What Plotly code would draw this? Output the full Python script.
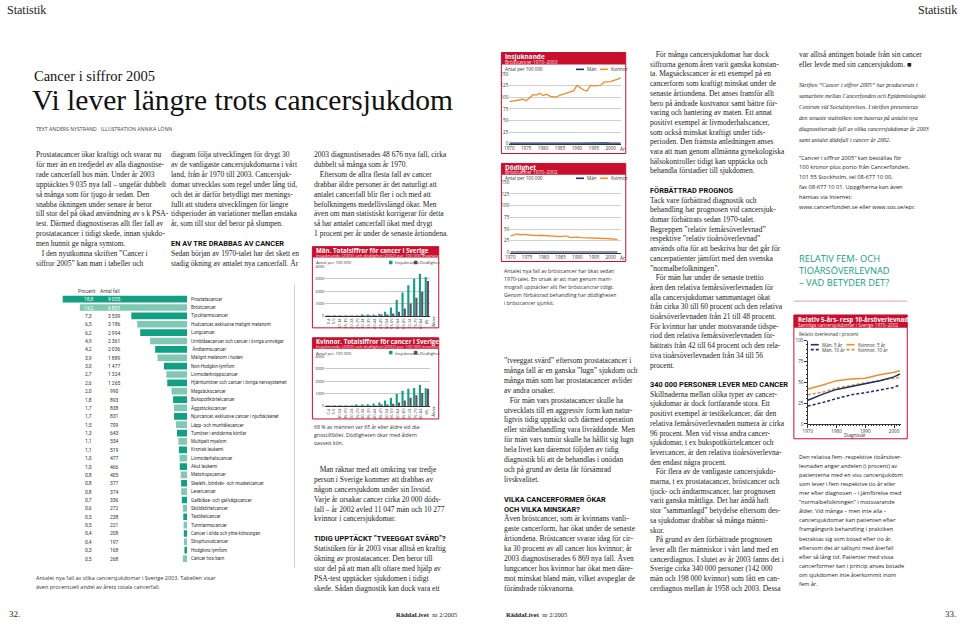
import plotly.graph_objects as go

W, H = 960, 625
def px(x): return x / W
def py(y): return 1 - y / H

SANS = "Open Sans, Noto Sans, sans-serif"
NARROW = "Roboto, Open Sans, sans-serif"
SERIF = "Liberation Serif, Times New Roman, serif"
HEAD = "Liberation Sans Narrow, Roboto, sans-serif"
RED = "#c8102e"
TEAL_D = "#12a082"
TEAL_L = "#80c8b2"
NAVY = "#1f2d6e"
ORANGE = "#f08c2a"
PURPLE = "#6c4a6a"
TXT = "#222222"

# ---------------- data ----------------
cancer_types = [
    "Prostatacancer", "Bröstcancer", "Tjocktarmscancer",
    "Hudcancer, exklusive malignt melanom", "Lungcancer",
    "Urinblåsecancer och cancer i övriga urinvägar", " Ändtarmscancer",
    "Malignt melanom i huden", "Non-Hodgkin-lymfom", "Livmoderkroppscancer",
    "Hjärntumörer och cancer i övriga nervsystemet", "Magsäckscancer",
    "Bukspottkörtelcancer", "Äggstockscancer",
    "Njurcancer, exklusive cancer i njurbäckenet", "Läpp- och munhålecancer",
    "Tumörer i endokrina körtlar", "Multipelt myelom", "Kronisk leukemi",
    "Livmoderhalscancer", "Akut leukemi", "Matstrupscancer",
    "Skelett-, bindväv- och muskelcancer", "Levercancer",
    "Gallblåse- och gallvägscancer", "Sköldkörtelcancer", "Testikelcancer",
    "Tunntarmscancer", "Cancer i slida och yttre könsorgan",
    "Struphuvudcancer", "Hodgkins lymfom", "Cancer hos barn",
]
percent = ["18,8", "14,2", "7,3", "6,5", "6,2", "4,9", "4,2", "3,9", "3,0", "2,7",
           "2,6", "2,0", "1,8", "1,7", "1,7", "1,5", "1,3", "1,1", "1,1", "1,0",
           "1,0", "0,8", "0,8", "0,8", "0,7", "0,6", "0,5", "0,5", "0,4", "0,4",
           "0,3", "0,5"]
cases = [9035, 6851, 3559, 3186, 2994, 2361, 2036, 1889, 1477, 1324, 1265, 990,
         893, 838, 831, 709, 643, 554, 519, 477, 466, 405, 377, 374, 336, 272,
         238, 221, 208, 197, 168, 268]

inc_years = list(range(1970, 2004))
inc_women = [91, 92, 93, 95, 96, 93, 99, 106, 105, 109, 104, 107, 103, 101, 101,
             105, 107, 109, 111, 114, 126, 121, 116, 114, 126, 125, 125, 126,
             133, 134, 134, 137, 139, 143]
inc_men = [0.7, 0.8, 0.7, 0.9, 0.8, 0.7, 0.9, 0.8, 0.8, 0.9, 0.7, 0.8, 0.9, 0.8,
           0.7, 0.9, 0.8, 0.8, 0.9, 0.9, 0.8, 1.0, 0.9, 0.9, 1.0, 0.9, 1.0, 0.9,
           1.0, 1.1, 0.9, 1.0, 1.1, 1.0]
mort_years = list(range(1970, 2003))
mort_women = [35, 37, 40, 38, 39, 38, 37, 37, 36, 37, 36.5, 36, 35, 35, 34.5, 34,
              35, 35, 32, 33, 33, 32, 31.5, 32, 31.5, 31, 31, 30.5, 30, 30, 29.5,
              29, 28]
mort_men = [0.4, 0.4, 0.5, 0.4, 0.4, 0.5, 0.4, 0.4, 0.4, 0.5, 0.4, 0.4, 0.4, 0.4,
            0.5, 0.4, 0.4, 0.4, 0.4, 0.4, 0.5, 0.4, 0.4, 0.4, 0.4, 0.4, 0.4, 0.4,
            0.4, 0.4, 0.4, 0.4, 0.4]

age_groups = ["0-4", "5-9", "10-14", "15-19", "20-24", "25-29", "30-34", "35-39",
              "40-44", "45-49", "50-54", "55-59", "60-64", "65-69", "70-74",
              "75-79", "80-84", "85-"]
men_inc = [20, 12, 12, 20, 30, 40, 55, 75, 110, 170, 350, 680, 1280, 1890, 2480,
           3010, 3410, 3150]
men_mort = [3, 2, 2, 3, 5, 7, 10, 17, 30, 60, 110, 200, 350, 610, 1010, 1470,
            1950, 2830]
women_inc = [18, 12, 12, 20, 35, 60, 90, 140, 210, 300, 450, 650, 980, 1240, 1400,
             1460, 1710, 1450]
women_mort = [2, 2, 2, 2, 3, 5, 8, 15, 30, 55, 100, 180, 290, 450, 680, 870,
              1050, 1400]

surv_years = [1970, 1975, 1980, 1985, 1990, 1995, 2000, 2002]
men_5 = [28.5, 35.5, 41.5, 45, 48, 52, 56.5, 60]
women_5 = [42, 46.5, 52, 54, 55, 59, 62, 64]
men_10 = [21.5, 25.5, 30.5, 35, 37.5, 40.5, 44, 47]
women_10 = [35, 38, 43, 46.5, 49.5, 52, 55, 56]

# ---------------- text ----------------
col1 = [
    "Prostatacancer ökar kraftigt och svarar nu",
    "för mer än en tredjedel av alla diagnostise-",
    "rade cancerfall hos män. Under år 2003",
    "upptäcktes 9 035 nya fall – ungefär dubbelt",
    "så många som för tjugo år sedan. Den",
    "snabba ökningen under senare år beror",
    "till stor del på ökad användning av s k PSA-",
    "test. Därmed diagnostiseras allt fler fall av",
    "prostatacancer i tidigt skede, innan sjukdo-",
    "men hunnit ge några symtom.",
    "\u00a0\u00a0\u00a0I den nyutkomna skriften ”Cancer i",
    "siffror 2005” kan man i tabeller och",
]
col2 = [
    "diagram följa utvecklingen för drygt 30",
    "av de vanligaste cancersjukdomarna i vårt",
    "land, från år 1970 till 2003. Cancersjuk-",
    "domar utvecklas som regel under lång tid,",
    "och det är därför betydligt mer menings-",
    "fullt att studera utvecklingen för längre",
    "tidsperioder än variationer mellan enstaka",
    "år, som till stor del beror på slumpen.",
    "",
    "#EN AV TRE DRABBAS AV CANCER",
    "Sedan början av 1970-talet har det skett en",
    "stadig ökning av antalet nya cancerfall. År",
]
col3a = [
    "2003 diagnostiserades 48 676 nya fall, cirka",
    "dubbelt så många som år 1970.",
    "\u00a0\u00a0\u00a0Eftersom de allra flesta fall av cancer",
    "drabbar äldre personer är det naturligt att",
    "antalet cancerfall blir fler i och med att",
    "befolkningens medellivslängd ökar. Men",
    "även om man statistiskt korrigerar för detta",
    "så har antalet cancerfall ökat med drygt",
    "1 procent per år under de senaste årtiondena.",
]
col3cap = [
    "68 % av männen var 65 år eller äldre vid dia-",
    "gnostillfället. Dödligheten ökar med åldern",
    "oavsett kön.",
]
col3b = [
    "\u00a0\u00a0\u00a0Man räknar med att omkring var tredje",
    "person i Sverige kommer att drabbas av",
    "någon cancersjukdom under sin livstid.",
    "Varje år orsakar cancer cirka 20 000 döds-",
    "fall – år 2002 avled 11 047 män och 10 277",
    "kvinnor i cancersjukdomar.",
    "",
    "#TIDIG UPPTÄCKT ”TVEEGGAT SVÄRD”?",
    "Statistiken för år 2003 visar alltså en kraftig",
    "ökning av prostatacancer. Den beror till",
    "stor del på att man allt oftare med hjälp av",
    "PSA-test upptäcker sjukdomen i tidigt",
    "skede. Sådan diagnostik kan dock vara ett",
]
col4cap = [
    "Antalet nya fall av bröstcancer har ökat sedan",
    "1970-talet. En orsak är att man genom mam-",
    "mografi upptäcker allt fler bröstcancrar tidigt.",
    "Genom förbättrad behandling har dödligheten",
    "i bröstcancer sjunkit.",
]
col4 = [
    "”tveeggat svärd” eftersom prostatacancer i",
    "många fall är en ganska ”lugn” sjukdom och",
    "många män som har prostatacancer avlider",
    "av andra orsaker.",
    "\u00a0\u00a0\u00a0För män vars prostatacancer skulle ha",
    "utvecklats till en aggressiv form kan natur-",
    "ligtvis tidig upptäckt och därmed operation",
    "eller strålbehandling vara livräddande. Men",
    "för män vars tumör skulle ha hållit sig lugn",
    "hela livet kan däremot följden av tidig",
    "diagnostik bli att de behandlas i onödan",
    "och på grund av detta får försämrad",
    "livskvalitet.",
    "",
    "#VILKA CANCERFORMER ÖKAR",
    "#OCH VILKA MINSKAR?",
    "Även bröstcancer, som är kvinnans vanli-",
    "gaste cancerform, har ökat under de senaste",
    "årtiondena. Bröstcancer svarar idag för cir-",
    "ka 30 procent av all cancer hos kvinnor; år",
    "2003 diagnostiserades 6 869 nya fall. Även",
    "lungcancer hos kvinnor har ökat men däre-",
    "mot minskat bland män, vilket avspeglar de",
    "förändrade rökvanorna.",
]
col5 = [
    "\u00a0\u00a0\u00a0För många cancersjukdomar har dock",
    "siffrorna genom åren varit ganska konstan-",
    "ta. Magsäckscancer är ett exempel på en",
    "cancerform som kraftigt minskat under de",
    "senaste årtiondena. Det anses framför allt",
    "bero på ändrade kostvanor samt bättre för-",
    "varing och hantering av maten. Ett annat",
    "positivt exempel är livmoderhalscancer,",
    "som också minskat kraftigt under tids-",
    "perioden. Den främsta anledningen anses",
    "vara att man genom allmänna gynekologiska",
    "hälsokontroller tidigt kan upptäcka och",
    "behandla förstadier till sjukdomen.",
    "",
    "#FÖRBÄTTRAD PROGNOS",
    "Tack vare förbättrad diagnostik och",
    "behandling har prognosen vid cancersjuk-",
    "domar förbättrats sedan 1970-talet.",
    "Begreppen ”relativ femårsöverlevnad”",
    "respektive ”relativ tioårsöverlevnad”",
    "används ofta för att beskriva hur det går för",
    "cancerpatienter jämfört med den svenska",
    "”normalbefolkningen”.",
    "\u00a0\u00a0\u00a0För män har under de senaste trettio",
    "åren den relativa femårsöverlevnaden för",
    "alla cancersjukdomar sammantaget ökat",
    "från cirka 30 till 60 procent och den relativa",
    "tioårsöverlevnaden från 21 till 48 procent.",
    "För kvinnor har under motsvarande tidspe-",
    "riod den relativa femårsöverlevnaden för-",
    "bättrats från 42 till 64 procent och den rela-",
    "tiva tioårsöverlevnaden från 34 till 56",
    "procent.",
    "",
    "#340 000 PERSONER LEVER MED CANCER",
    "Skillnaderna mellan olika typer av cancer-",
    "sjukdomar är dock fortfarande stora. Ett",
    "positivt exempel är testikelcancer, där den",
    "relativa femårsöverlevnaden numera är cirka",
    "96 procent. Men vid vissa andra cancer-",
    "sjukdomar, t ex bukspottkörtelcancer och",
    "levercancer, är den relativa tioårsöverlevna-",
    "den endast några procent.",
    "\u00a0\u00a0\u00a0För flera av de vanligaste cancersjukdo-",
    "marna, t ex prostatacancer, bröstcancer och",
    "tjock- och ändtarmscancer, har prognosen",
    "varit ganska måttliga. Det har ändå haft",
    "stor ”sammanlagd” betydelse eftersom des-",
    "sa sjukdomar drabbar så många männi-",
    "skor.",
    "\u00a0\u00a0\u00a0På grund av den förbättrade prognosen",
    "lever allt fler människor i vårt land med en",
    "cancerdiagnos. I slutet av år 2003 fanns det i",
    "Sverige cirka 340 000 personer (142 000",
    "män och 198 000 kvinnor) som fått en can-",
    "cerdiagnos mellan år 1958 och 2003. Dessa",
]
col6a = [
    "var alltså antingen botade från sin cancer",
    "eller levde med sin cancersjukdom. ■",
]
col6it = [
    "Skriften ”Cancer i siffror 2005” har producerats i",
    "samarbete mellan Cancerfonden och Epidemiologiskt",
    "Centrum vid Socialstyrelsen. I skriften presenteras",
    "den senaste statistiken som baseras på antalet nya",
    "diagnostiserade fall av olika cancersjukdomar år 2003",
    "samt antalet dödsfall i cancer år 2002.",
]
col6s = [
    "”Cancer i siffror 2005” kan beställas för",
    "100 kronor plus porto från Cancerfonden,",
    "101 55 Stockholm, tel 08-677 10 00,",
    "fax 08-677 10 01. Uppgifterna kan även",
    "hämtas via Internet:",
    "www.cancerfonden.se eller www.sos.se/epc",
]
col6head = ["RELATIV FEM- OCH", "TIOÅRSÖVERLEVNAD", "– VAD BETYDER DET?"]
col6b = [
    "Den relativa fem- respektive tioårsöver-",
    "levnaden anger andelen (i procent) av",
    "patienterna med en viss cancersjukdom",
    "som lever i fem respektive tio år eller",
    "mer efter diagnosen – i jämförelse med",
    "”normalbefolkningen” i motsvarande",
    "ålder. Vid många – men inte alla –",
    "cancersjukdomar kan patienten efter",
    "framgångsrik behandling i praktiken",
    "betraktas sig som botad efter tio år,",
    "eftersom det är sällsynt med återfall",
    "efter så lång tid. Patienter med vissa",
    "cancerformer kan i princip anses botade",
    "om sjukdomen inte återkommit inom",
    "fem år.",
]

annotations = []
shapes = []

def note(text, x, y, size, family=SANS, color=TXT, xanchor="left", yanchor="middle",
         xref="paper", yref="paper", angle=0):
    annotations.append(dict(
        text=text, x=px(x) if xref == "paper" else x,
        y=py(y) if yref == "paper" else y, xref=xref, yref=yref,
        xanchor=xanchor, yanchor=yanchor, showarrow=False, textangle=angle,
        borderpad=0, font=dict(size=size, family=family, color=color)))

def block(lines, x, y0, dy, size, family=SERIF, color=TXT, head_size=7.4):
    for i, t in enumerate(lines):
        if not t:
            continue
        if t.startswith("#"):
            note("<b>" + t[1:] + "</b>", x, y0 + i * dy, head_size, HEAD, "#111")
        else:
            note(t, x, y0 + i * dy, size, family, color)

def rect(x0, y0, x1, y1, fill=None, line=None, width=1):
    shapes.append(dict(type="rect", xref="paper", yref="paper",
                       x0=px(x0), x1=px(x1), y0=py(y1), y1=py(y0),
                       fillcolor=fill if fill else "rgba(0,0,0,0)",
                       line=dict(color=line if line else "rgba(0,0,0,0)", width=width)))

def hline(x0, x1, y, color, width=1, dash="solid"):
    shapes.append(dict(type="line", xref="paper", yref="paper", x0=px(x0), x1=px(x1),
                       y0=py(y), y1=py(y), line=dict(color=color, width=width, dash=dash)))

BODY = 7.5

# --------- page headers / titles ---------
note("Statistik", 1, 7, 12, SERIF, "#222")
note("Statistik", 958, 7, 12, SERIF, "#222", xanchor="right")
note("Cancer i siffror 2005", 28, 74, 14.5, SERIF, "#111")
note("Vi lever längre trots cancersjukdom", 26, 98, 29.5, SERIF, "#111")
note("TEXT ANDERS NYSTRAND\u00a0\u00a0\u00a0ILLUSTRATION ANNIKA LÖNN", 30, 127, 5.2, SANS, "#444")

block(col1, 30, 153, 10, BODY)
block(col2, 166, 153, 10, BODY)
block(col3a, 310, 153, 10, BODY)
block(col3cap, 310, 428, 8, 5.2, SANS, "#333")
block(col3b, 310, 471, 10, BODY)
block(col4cap, 501, 271, 8, 5.2, SANS, "#333")
block(col4, 501, 361, 10, BODY)
block(col5, 647, 52, 9.8, BODY)
block(col6a, 797, 52, 10, BODY)
for i, t in enumerate(col6it):
    note("<i>" + t + "</i>", 797, 83 + i * 11, 5.9, SERIF, "#222")
block(col6s, 797, 156, 10, 5.7, SANS, "#222")
for i, t in enumerate(col6head):
    note(t, 797, 258 + i * 12, 9.3, SANS, TEAL_D)
hline(793, 907, 301, "#d9a3ad", 1)
block(col6b, 797, 458, 9.2, 5.6, SANS, "#222")

# footer
note("32.", 3, 617, 9, SERIF, "#222")
note("<b>RäddaLivet</b>\u00a0\u00a0nr 2/2005", 392, 617, 6.5, SERIF, "#222")
note("<b>RäddaLivet</b>\u00a0\u00a0nr 2/2005", 503, 617, 6.5, SERIF, "#222")
note("33.", 957, 617, 9, SERIF, "#222", xanchor="right")

# --------- main bar table ---------
bar_colors = [TEAL_D if i % 2 == 0 else TEAL_L for i in range(len(cases))]
note("Procent", 82, 291, 5.0, NARROW, "#444", xanchor="center")
note("Antal fall", 106, 291, 5.0, NARROW, "#444", xanchor="center")
for i, name in enumerate(cancer_types):
    c = "white" if i < 2 else "#333"
    note(percent[i], 84, name, 5.0, NARROW, c, xanchor="center", yref="y")
    note(f"{cases[i]:,}".replace(",", "\u2009"), 110, name, 5.0, NARROW, c,
         xanchor="center", yref="y")
    note(name, 186, name, 4.6, NARROW, "#333", yref="y")
note("Antalet nya fall av olika cancersjukdomar i Sverige 2003. Tabellen visar",
     30, 581, 5.5, SANS, "#333")
note("även procentuell andel av årets totala cancerfall.", 30, 590, 5.5, SANS, "#333")
shapes.append(dict(type="line", xref="paper", yref="paper", x0=px(291), x1=px(291),
                   y0=py(570), y1=py(284), line=dict(color="#d0d0d0", width=1)))

traces = []
traces.append(go.Bar(x=cases, y=cancer_types, orientation="h", marker_color=bar_colors,
                     marker_line_width=0, width=0.8, xaxis="x", yaxis="y",
                     hoverinfo="x+y"))

# --------- small chart frames ---------
def chart_frame(x0, y0, x1, y1, hh, title, sub, tsize=6.4, ssize=4.8):
    rect(x0, y0, x1, y0 + hh, fill=RED)
    rect(x0, y0, x1, y1, line=RED, width=1)
    note("<b>" + title + "</b>", x0 + 3, y0 + hh * 0.32, tsize, SANS, "white")
    note(sub, x0 + 3, y0 + hh * 0.76, ssize, SANS, "#ffe0e4")

chart_frame(499, 50, 624, 152, 12, "Insjuknande", "Bröstcancer 1970–2003")
chart_frame(499, 162, 624, 261, 11.5, "Dödlighet", "Bröstcancer 1970–2002")
chart_frame(309, 246, 436, 328, 11, "Män. Totalsiffror för cancer i Sverige",
            "Insjuknande (2003) och dödlighet (2002) per 100 000 invånare", 6.2, 4.3)
chart_frame(309, 338, 436, 420, 11, "Kvinnor. Totalsiffror för cancer i Sverige",
            "Insjuknande (2003) och dödlighet (2002) per 100 000 invånare", 6.2, 4.3)
chart_frame(793, 315, 907, 440, 13, "Relativ 5-års- resp 10-årsöverlevnad",
            "Samtliga cancersjukdomar i Sverige 1970–2002", 6.2, 4.6)

# legends / labels for line charts
for y_lab in (67, 177):
    note("Antal per 100 000", 502, y_lab, 4.6, SANS, "#333")
    hline(574, 582, y_lab, NAVY, 1.6)
    note("Män", 584, y_lab, 4.6, SANS, "#333")
    hline(598, 606, y_lab, ORANGE, 1.6)
    note("Kvinnor", 608, y_lab, 4.6, SANS, "#333")
note("År", 621, 147.5, 4.8, SANS, "#333", xanchor="center")
note("År", 621, 257, 4.8, SANS, "#333", xanchor="center")

for y_lab in (262, 353):
    note("Antal per 100 000", 312, y_lab, 4.3, SANS, "#333")
    rect(386, y_lab - 1.8, 389.5, y_lab + 1.8, fill=TEAL_D)
    note("Insjuknande", 391, y_lab, 4.3, SANS, "#333")
    rect(411, y_lab - 1.8, 414.5, y_lab + 1.8, fill=PURPLE)
    note("Dödlighet", 416, y_lab, 4.3, SANS, "#333")
note("Ålder", 430, 321, 4.3, SANS, "#333", xanchor="center", angle=-90)
note("Ålder", 430, 412, 4.3, SANS, "#333", xanchor="center", angle=-90)

note("Relativ överlevnad i procent", 797, 334, 4.6, SANS, "#333")
hline(810, 818, 345, NAVY, 1.6)
note("Män, 5 år", 820, 345, 4.6, SANS, "#333")
hline(810, 818, 350, NAVY, 1.6, "3px,2px")
note("Män, 10 år", 820, 350, 4.6, SANS, "#333")
hline(846, 854, 345, ORANGE, 1.6)
note("Kvinnor, 5 år", 856, 345, 4.6, SANS, "#333")
hline(846, 854, 350, ORANGE, 1.6, "3px,2px")
note("Kvinnor, 10 år", 856, 350, 4.6, SANS, "#333")
note("Diagnosår", 854, 436, 4.6, SANS, "#333", xanchor="center")

# --------- chart traces ---------
traces += [
    go.Scatter(x=inc_years, y=inc_men, mode="lines", line=dict(color=NAVY, width=1.6),
               xaxis="x2", yaxis="y2"),
    go.Scatter(x=inc_years, y=inc_women, mode="lines", line=dict(color=ORANGE, width=1.3),
               xaxis="x2", yaxis="y2"),
    go.Scatter(x=mort_years, y=mort_men, mode="lines", line=dict(color=NAVY, width=1.6),
               xaxis="x3", yaxis="y3"),
    go.Scatter(x=mort_years, y=mort_women, mode="lines", line=dict(color=ORANGE, width=1.3),
               xaxis="x3", yaxis="y3"),
    go.Bar(x=age_groups, y=men_inc, marker_color=TEAL_D, xaxis="x4", yaxis="y4",
           marker_line_width=0),
    go.Bar(x=age_groups, y=men_mort, marker_color=PURPLE, xaxis="x4", yaxis="y4",
           marker_line_width=0),
    go.Bar(x=age_groups, y=women_inc, marker_color=TEAL_D, xaxis="x5", yaxis="y5",
           marker_line_width=0),
    go.Bar(x=age_groups, y=women_mort, marker_color=PURPLE, xaxis="x5", yaxis="y5",
           marker_line_width=0),
    go.Scatter(x=surv_years, y=women_10, mode="lines", line=dict(color=ORANGE, width=1.5, dash="3px,2px"),
               xaxis="x6", yaxis="y6"),
    go.Scatter(x=surv_years, y=women_5, mode="lines", line=dict(color=ORANGE, width=1.5),
               xaxis="x6", yaxis="y6"),
    go.Scatter(x=surv_years, y=men_10, mode="lines", line=dict(color=NAVY, width=1.5, dash="3px,2px"),
               xaxis="x6", yaxis="y6"),
    go.Scatter(x=surv_years, y=men_5, mode="lines", line=dict(color=NAVY, width=1.5),
               xaxis="x6", yaxis="y6"),
]

tickf = dict(size=4.6, family=SANS, color="#333")
tickf_s = dict(size=4.0, family=SANS, color="#333")

def xdom(a, b): return [px(a), px(b)]
def ydom(top, bottom): return [py(bottom), py(top)]

layout = dict(
    width=W, height=H, margin=dict(l=0, r=0, t=0, b=0),
    paper_bgcolor="white", plot_bgcolor="rgba(0,0,0,0)",
    showlegend=False, barmode="group", bargap=0.22, bargroupgap=0.05,
    annotations=annotations, shapes=shapes,
    xaxis=dict(domain=xdom(58, 183), range=[7947, 0], visible=False, fixedrange=True),
    yaxis=dict(domain=ydom(294.8, 565.2), type="category", categoryarray=cancer_types,
               range=[31.5, -0.5], visible=False, fixedrange=True),
    xaxis2=dict(domain=xdom(507, 619), anchor="y2", range=[1970, 2003],
                tickvals=[1970, 1975, 1980, 1985, 1990, 1995, 2000], tickfont=tickf,
                showgrid=False, zeroline=False, showline=True, linecolor="#333",
                linewidth=0.8, ticks=""),
    yaxis2=dict(domain=ydom(72, 142), anchor="x2", range=[0, 150],
                tickvals=[0, 25, 50, 75, 100, 125, 150], tickfont=tickf,
                gridcolor="#cfcfcf", gridwidth=0.6, zeroline=False, ticks="",
                showline=False),
    xaxis3=dict(domain=xdom(508, 619), anchor="y3", range=[1970, 2003],
                tickvals=[1970, 1975, 1980, 1985, 1990, 1995, 2000], tickfont=tickf,
                showgrid=False, zeroline=False, showline=True, linecolor="#333",
                linewidth=0.8, ticks=""),
    yaxis3=dict(domain=ydom(181, 252), anchor="x3", range=[0, 150],
                tickvals=[0, 25, 50, 75, 100, 125, 150], tickfont=tickf,
                gridcolor="#cfcfcf", gridwidth=0.6, zeroline=False, ticks=""),
    xaxis4=dict(domain=xdom(322, 427), anchor="y4", type="category",
                categoryarray=age_groups, tickangle=-90, tickfont=tickf_s,
                showgrid=False, showline=True, linecolor="#333", linewidth=0.8, ticks=""),
    yaxis4=dict(domain=ydom(266, 316), anchor="x4", range=[0, 4000],
                tickvals=[0, 1000, 2000, 3000, 4000], tickfont=tickf_s,
                gridcolor="#c8c8c8", gridwidth=0.6, zeroline=False, ticks=""),
    xaxis5=dict(domain=xdom(322, 427), anchor="y5", type="category",
                categoryarray=age_groups, tickangle=-90, tickfont=tickf_s,
                showgrid=False, showline=True, linecolor="#333", linewidth=0.8, ticks=""),
    yaxis5=dict(domain=ydom(357, 407), anchor="x5", range=[0, 4000],
                tickvals=[0, 1000, 2000, 3000, 4000], tickfont=tickf_s,
                gridcolor="#c8c8c8", gridwidth=0.6, zeroline=False, ticks=""),
    xaxis6=dict(domain=xdom(807, 901), anchor="y6", range=[1970, 2002.5],
                tickvals=[1970, 1980, 1990, 2000], tickfont=tickf, showgrid=False,
                zeroline=False, showline=True, linecolor="#333", linewidth=0.8,
                ticks="outside", ticklen=3, tickcolor="#333", tickwidth=0.6,
                minor=dict(ticks="outside", dtick=1, ticklen=1.5, tickcolor="#333", tickwidth=0.5)),
    yaxis6=dict(domain=ydom(341, 425), anchor="x6", range=[0, 100],
                tickvals=[0, 25, 50, 75, 100], tickfont=tickf, showgrid=False,
                zeroline=False, showline=True, linecolor="#333", linewidth=0.8,
                ticks="outside", ticklen=2.5, tickcolor="#333", tickwidth=0.6,
                minor=dict(ticks="outside", dtick=5, ticklen=1.2, tickcolor="#333", tickwidth=0.5)),
)

fig = go.Figure(data=traces, layout=layout)
fig.write_html("out.html", config={"displayModeBar": False},
               post_script="document.body.style.margin='0';document.body.style.padding='0';")
